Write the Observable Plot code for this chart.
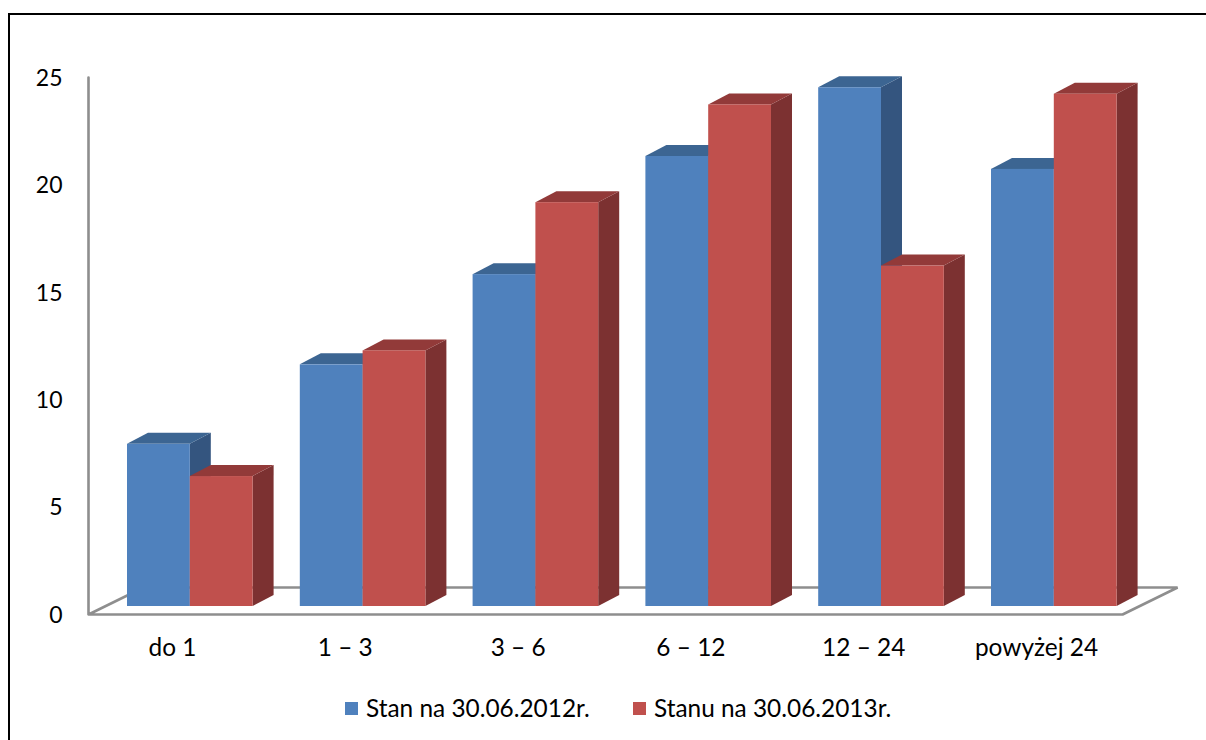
<!DOCTYPE html>
<html><head><meta charset="utf-8">
<script src="https://cdn.jsdelivr.net/npm/d3@7"></script>
<script src="https://cdn.jsdelivr.net/npm/@observablehq/plot@0.6"></script>
<style>
html,body{margin:0;padding:0;background:#fff;overflow:hidden}
body{position:relative;width:1206px;height:740px;font-family:Lato,sans-serif}
#frame{position:absolute;left:8px;top:13px;right:-4px;bottom:-4px;border:2px solid #000;pointer-events:none}
#chart{position:absolute;left:0;top:0}
.lg{position:absolute;top:694px;font-size:24.4px;line-height:28px;color:#000;white-space:nowrap}
.sw{position:absolute;top:702px;width:13px;height:13px}
</style></head><body>
<div id="frame"></div><div id="chart"></div>
<div class="sw" style="left:345px;background:#4F81BD"></div><div class="lg" style="left:366px" id="l0"></div>
<div class="sw" style="left:633px;background:#C0504D"></div><div class="lg" style="left:654px" id="l1"></div>
<script>
const categories = ["do 1", "1 – 3", "3 – 6", "6 – 12", "12 – 24", "powyżej 24"];
const seriesNames = ["Stan na 30.06.2012r.", "Stanu na 30.06.2013r."];
const values2012 = [7.55, 11.25, 15.45, 20.95, 24.15, 20.35];
const values2013 = [6.05, 11.9, 18.8, 23.35, 15.85, 23.85];
const yTicks = [0, 5, 10, 15, 20, 25];
const frontColors = ["#4F81BD", "#C0504D"];
const topColors = ["#3C6592", "#923A39"];
const sideColors = ["#34557F", "#7C3131"];
const axisColor = "#8E8E8E";

// 3-D projection constants, in data units
const barW = 62.8 / 172.8, lead = 23.4 / 172.8;
const depthX = 21 / 172.8, depthY = 11 / 21.48, baseY = 8 / 21.48;
const floorLeft = -15.6 / 172.8, floorRight = 5.894, floorDX = 55 / 172.8, floorDY = 27 / 21.48;

const marks = [];
// floor and wall
marks.push(Plot.line([[floorLeft, 25], [floorLeft, 0], [floorRight, 0], [floorRight + floorDX, floorDY], [floorLeft + floorDX, floorDY], [floorLeft, 0]],
  {stroke: axisColor, strokeWidth: 2.6, strokeLinejoin: "miter"}));

[values2012, values2013].forEach((vals, s) => {
  const bars = vals.map((v, i) => ({i, v, x0: i + lead + s * barW, x1: i + lead + (s + 1) * barW}));
  const side = bars.flatMap(b => [
    {i: b.i, x: b.x1, y1: baseY, y2: b.v + baseY},
    {i: b.i, x: b.x1 + depthX, y1: baseY + depthY, y2: b.v + baseY + depthY}]);
  const top = bars.flatMap(b => [
    {i: b.i, y: b.v + baseY, x1: b.x0, x2: b.x1},
    {i: b.i, y: b.v + baseY + depthY, x1: b.x0 + depthX, x2: b.x1 + depthX}]);
  marks.push(Plot.areaY(side, {x: "x", y1: "y1", y2: "y2", z: "i", fill: sideColors[s]}));
  marks.push(Plot.areaX(top, {y: "y", x1: "x1", x2: "x2", z: "i", fill: topColors[s]}));
  marks.push(Plot.rect(bars, {x1: "x0", x2: "x1", y1: baseY, y2: d => d.v + baseY, fill: frontColors[s]}));
});

marks.push(Plot.axisY(yTicks, {anchor: "left", tickSize: 0, tickPadding: 26, fontSize: 23, dy: 1, fill: "#000", label: null, tickFormat: d => String(d)}));
marks.push(Plot.axisX(categories.map((c, i) => i + 0.5), {anchor: "bottom", tickSize: 0, tickPadding: 24, fontSize: 24.4, fill: "#000", label: null, dx: -18,
  tickFormat: d => categories[Math.floor(d)]}));

const plot = Plot.plot({
  width: 1206, height: 680,
  marginLeft: 88, marginRight: 20, marginTop: 60, marginBottom: 66,
  style: {background: "transparent", fontFamily: "Lato, sans-serif", overflow: "visible"},
  x: {type: "linear", domain: [0, 6], range: [103.6, 1140.4]},
  y: {type: "linear", domain: [0, 25], range: [614, 77]},
  marks
});
document.getElementById("chart").append(plot);
document.getElementById("l0").textContent = seriesNames[0];
document.getElementById("l1").textContent = seriesNames[1];
</script></body></html>
